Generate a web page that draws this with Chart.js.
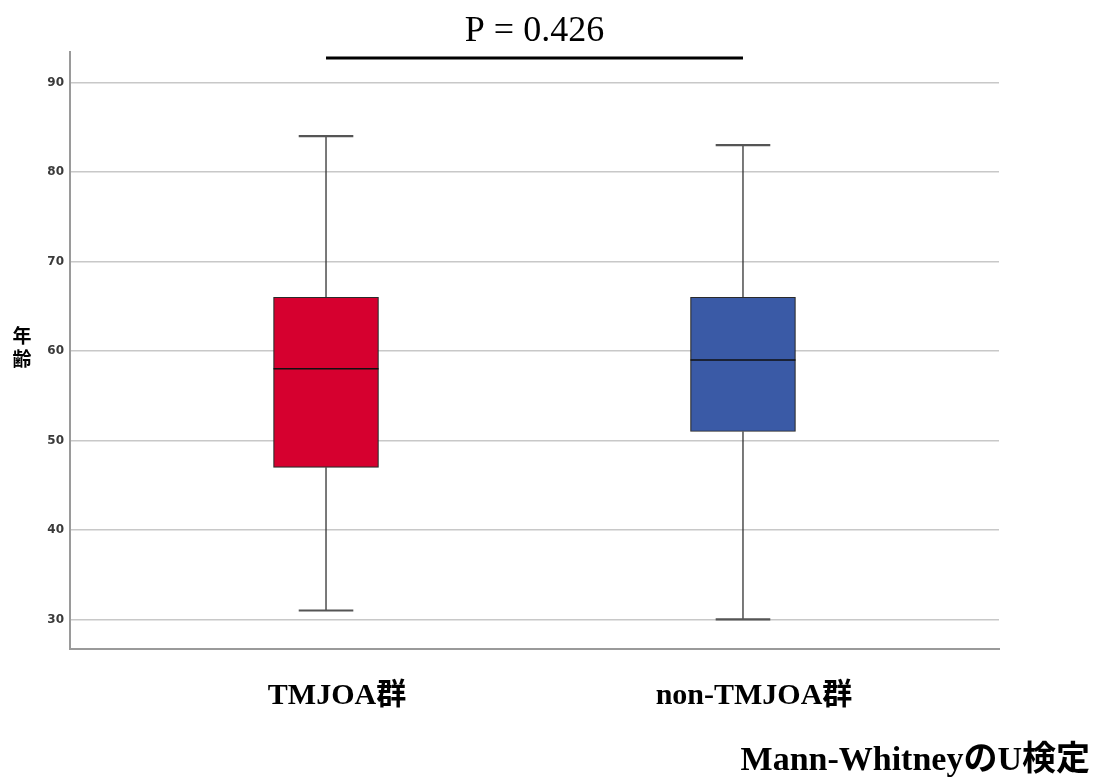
<!DOCTYPE html>
<html>
<head>
<meta charset="utf-8">
<script src="https://cdn.jsdelivr.net/npm/chart.js@4.4.1/dist/chart.umd.min.js"></script>
<style>
  html, body { margin: 0; padding: 0; background: #ffffff; }
  #wrap { width: 1097px; height: 782px; position: relative; }
</style>
</head>
<body>
<div id="wrap"><canvas id="c" width="1097" height="782"></canvas></div>
<script>
// Age distribution per group (box plot summary values)
const categories = ['TMJOA群', 'non-TMJOA群'];
const whiskerMin = [31, 30];
const quartile1  = [47, 51];
const medians    = [58, 59];
const quartile3  = [66, 66];
const whiskerMax = [84, 83];
const yTicks     = [30, 40, 50, 60, 70, 80, 90];
const boxColors  = ['#d6002f', '#3a5aa6'];
const pValueText = 'P = 0.426';
const testName   = 'Mann-WhitneyのU検定';
const yTitle     = ['年', '齢'];

const serif = '"Liberation Serif", "Times New Roman", "Noto Sans CJK JP", serif';

// Whiskers, caps, medians, comparison bar and the side texts
const boxExtras = {
  id: 'boxExtras',
  afterDatasetsDraw(chart) {
    const { ctx, scales: { x, y } } = chart;
    const meta = chart.getDatasetMeta(0);
    ctx.save();
    categories.forEach((_, i) => {
      const bar = meta.data[i];
      const cx = x.getPixelForValue(i + 1);
      const half = bar.width / 2;
      const pMin = y.getPixelForValue(whiskerMin[i]);
      const pQ1 = y.getPixelForValue(quartile1[i]);
      const pQ3 = y.getPixelForValue(quartile3[i]);
      const pMax = y.getPixelForValue(whiskerMax[i]);
      const pMed = y.getPixelForValue(medians[i]);
      // whisker stems
      ctx.strokeStyle = '#333333';
      ctx.lineWidth = 1.3;
      ctx.beginPath();
      ctx.moveTo(cx, pQ3); ctx.lineTo(cx, pMax);
      ctx.moveTo(cx, pQ1); ctx.lineTo(cx, pMin);
      ctx.stroke();
      // caps
      ctx.strokeStyle = '#555555';
      ctx.lineWidth = 2.2;
      const cap = half * 0.52;
      ctx.beginPath();
      ctx.moveTo(cx - cap, pMax); ctx.lineTo(cx + cap, pMax);
      ctx.moveTo(cx - cap, pMin); ctx.lineTo(cx + cap, pMin);
      ctx.stroke();
      // median
      ctx.strokeStyle = '#111111';
      ctx.lineWidth = 1.5;
      ctx.beginPath();
      ctx.moveTo(cx - half, pMed); ctx.lineTo(cx + half, pMed);
      ctx.stroke();
    });

    // comparison bar with p value
    const x1 = x.getPixelForValue(1);
    const x2 = x.getPixelForValue(2);
    ctx.strokeStyle = '#000000';
    ctx.lineWidth = 3;
    ctx.beginPath();
    ctx.moveTo(x1, 58); ctx.lineTo(x2, 58);
    ctx.stroke();
    ctx.fillStyle = '#000000';
    ctx.font = '36px ' + serif;
    ctx.textAlign = 'center';
    ctx.textBaseline = 'alphabetic';
    ctx.fillText(pValueText, (x1 + x2) / 2, 41);

    // vertical axis title, stacked characters
    ctx.font = 'bold 19px "Noto Sans CJK JP", sans-serif';
    ctx.textBaseline = 'middle';
    ctx.fillText(yTitle[0], 22, 336);
    ctx.fillText(yTitle[1], 22, 359);

    // test name
    ctx.font = 'bold 34px ' + serif;
    ctx.textAlign = 'right';
    ctx.textBaseline = 'alphabetic';
    ctx.fillText(testName, 1090, 770);
    ctx.restore();
  }
};

new Chart(document.getElementById('c'), {
  type: 'bar',
  data: {
    datasets: [{
      data: categories.map((_, i) => ({ x: i + 1, y: [quartile1[i], quartile3[i]] })),
      backgroundColor: boxColors,
      borderColor: '#2a2a2a',
      borderWidth: 1.2,
      borderSkipped: false,
      barThickness: 105
    }]
  },
  options: {
    responsive: false,
    animation: false,
    layout: { padding: { left: 0, right: 98, top: 52, bottom: 0 } },
    plugins: { legend: { display: false }, tooltip: { enabled: false } },
    scales: {
      x: {
        type: 'linear',
        min: 0.386,
        max: 2.614,
        offset: false,
        afterBuildTicks: (s) => { s.ticks = categories.map((_, i) => ({ value: i + 1 })); },
        afterFit: (s) => { s.height = 133; },
        grid: { display: false, drawTicks: false, offset: false },
        border: { display: true, color: '#9a9a9a', width: 2 },
        ticks: {
          callback: (v) => categories[v - 1],
          color: '#000000',
          font: { family: serif, size: 30, weight: 'bold' },
          padding: 29,
          labelOffset: 11,
          maxRotation: 0
        }
      },
      y: {
        min: 26.7,
        max: 93.4,
        afterBuildTicks: (s) => { s.ticks = yTicks.map(v => ({ value: v })); },
        afterFit: (s) => { s.width = 70; },
        grid: { color: '#c8c8c8', lineWidth: 1.6, drawTicks: false },
        border: { display: true, color: '#9a9a9a', width: 2 },
        ticks: {
          color: '#3a3a3a',
          font: { family: '"DejaVu Sans", sans-serif', size: 12, weight: 'bold' },
          padding: 6
        }
      }
    }
  },
  plugins: [boxExtras]
});
</script>
</body>
</html>
